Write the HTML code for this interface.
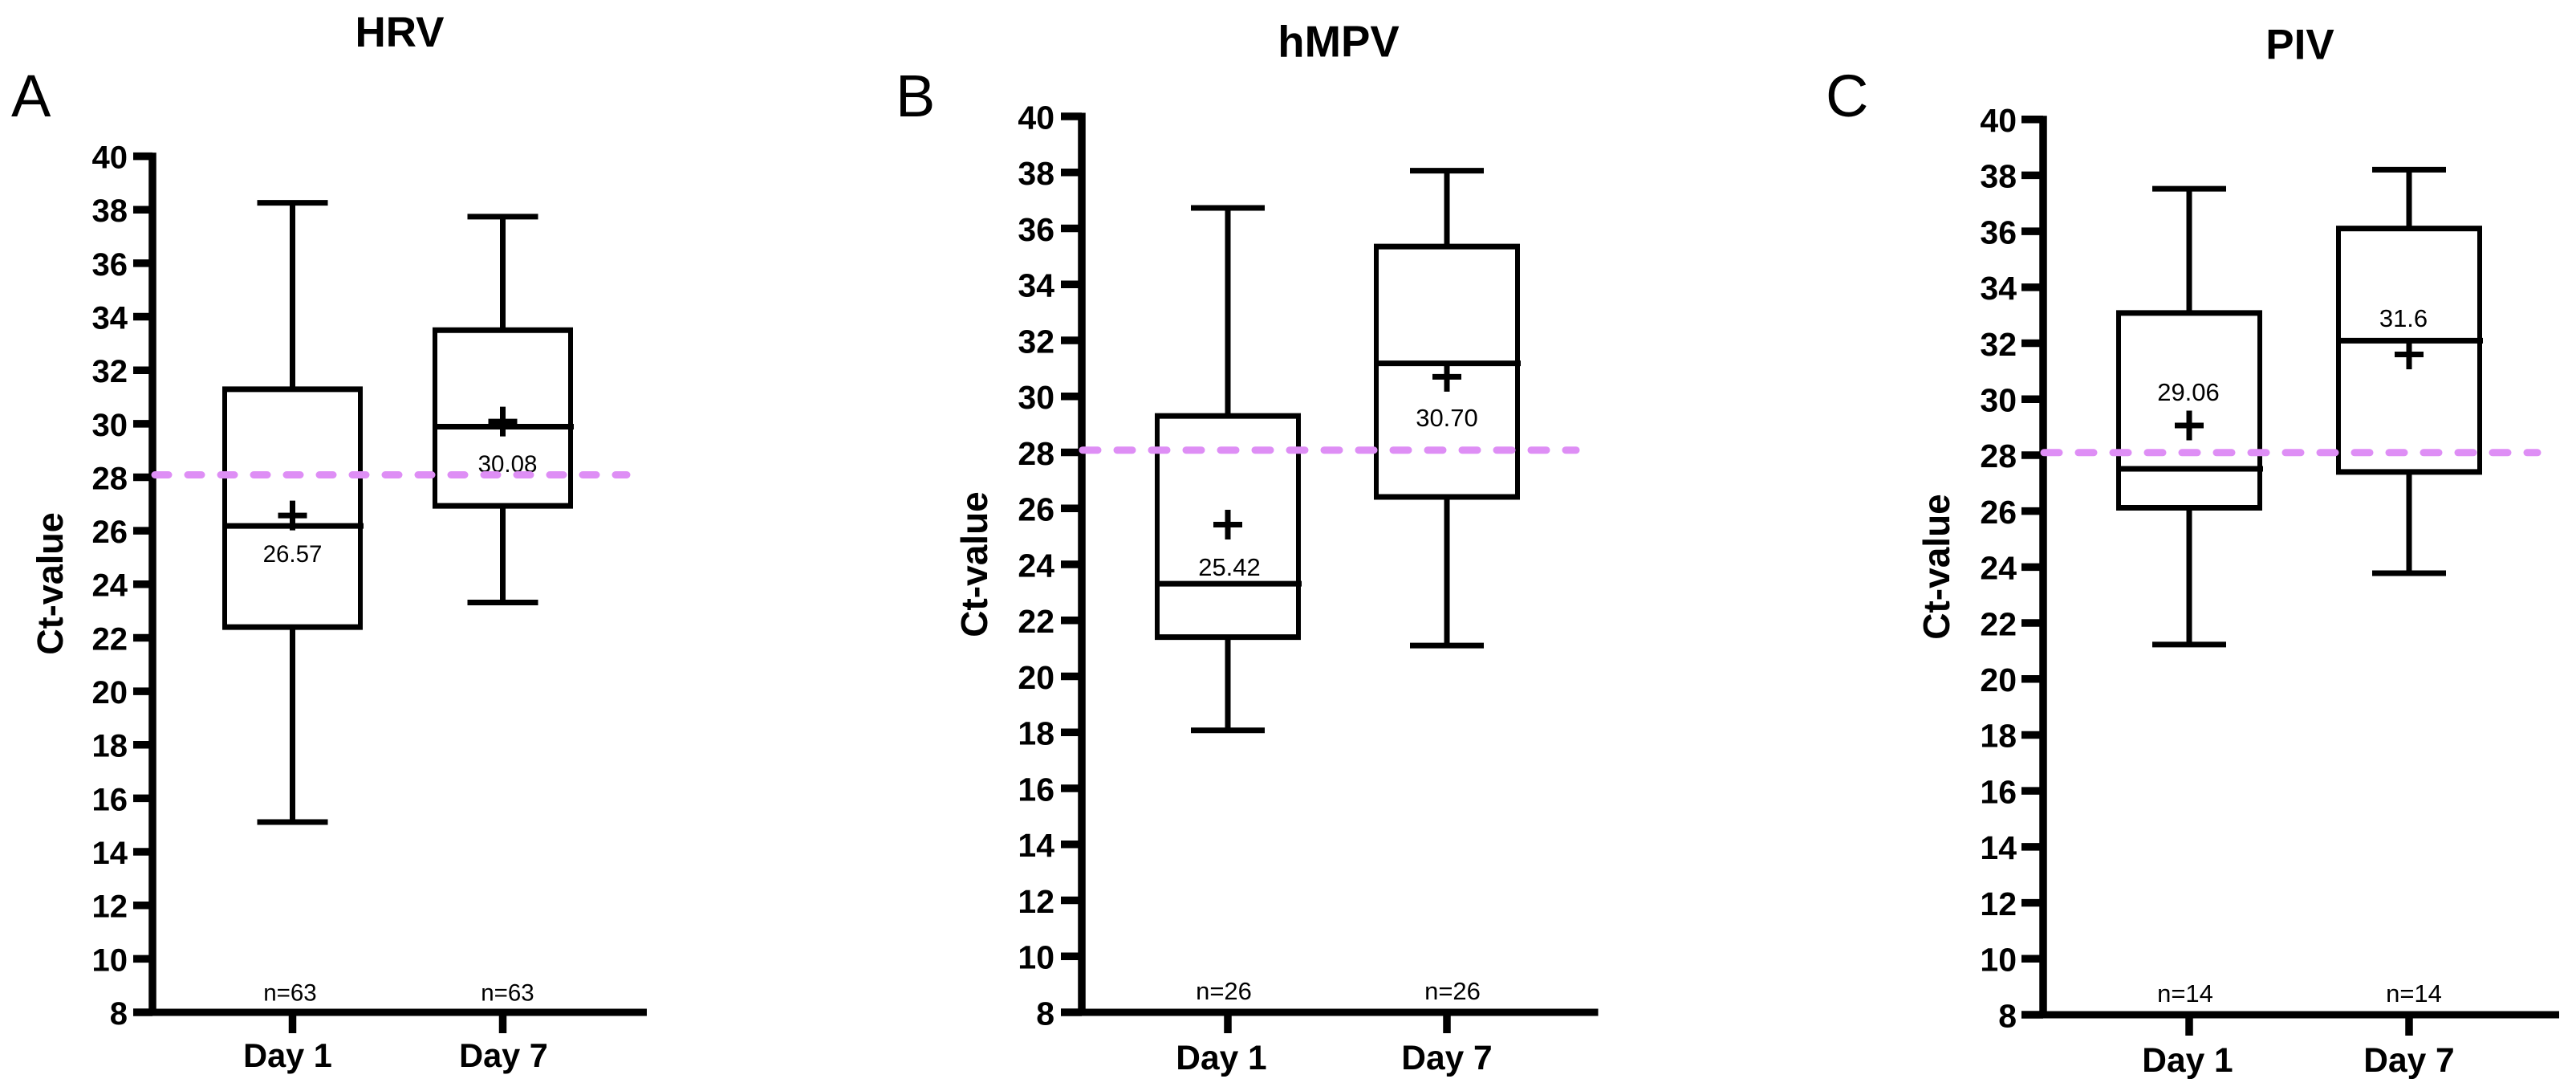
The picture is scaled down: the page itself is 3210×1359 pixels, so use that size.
<!DOCTYPE html>
<html lang="en">
<head>
<meta charset="utf-8">
<title>Ct-values at Day 1 and Day 7 for HRV, hMPV and PIV</title>
<style>
  html, body { margin: 0; padding: 0; background: #fff; }
  svg { display: block; font-family: "Liberation Sans", Arial, sans-serif; }
</style>
</head>
<body>
<svg id="figure" xmlns="http://www.w3.org/2000/svg" width="3210" height="1359" viewBox="0 0 3210 1359"></svg>
<script>
// ---- Data ----
const categories = ['Day 1', 'Day 7'];
const yTickValues = [8, 10, 12, 14, 16, 18, 20, 22, 24, 26, 28, 30, 32, 34, 36, 38, 40];

const hrvWhiskerHigh = [38.26, 37.74];
const hrvQ3 = [31.29, 33.50];
const hrvMedian = [26.18, 29.89];
const hrvQ1 = [22.40, 26.93];
const hrvWhiskerLow = [15.11, 23.32];
const hrvMean = [26.57, 30.08];
const hrvMeanLabels = ['26.57', '30.08'];
const hrvCounts = ['n=63', 'n=63'];
const hrvThreshold = 28.09;

const hmpvWhiskerHigh = [36.73, 38.06];
const hmpvQ3 = [29.30, 35.35];
const hmpvMedian = [23.31, 31.18];
const hmpvQ1 = [21.40, 26.41];
const hmpvWhiskerLow = [18.07, 21.10];
const hmpvMean = [25.42, 30.70];
const hmpvMeanLabels = ['25.42', '30.70'];
const hmpvCounts = ['n=26', 'n=26'];
const hmpvThreshold = 28.08;

const pivWhiskerHigh = [37.52, 38.20];
const pivQ3 = [33.08, 36.10];
const pivMedian = [27.51, 32.09];
const pivQ1 = [26.12, 27.40];
const pivWhiskerLow = [21.23, 23.78];
const pivMean = [29.06, 31.60];
const pivMeanLabels = ['29.06', '31.6'];
const pivCounts = ['n=14', 'n=14'];
const pivThreshold = 28.09;

// ---- Drawing ----
const svgNS = 'http://www.w3.org/2000/svg';
const figure = document.getElementById('figure');

function add(parent, tag, name, attrs, text) {
  const el = document.createElementNS(svgNS, tag);
  
  
  for (const k in attrs) el.setAttribute(k, attrs[k]);
  if (text !== undefined) el.textContent = text;
  parent.appendChild(el);
  return el;
}

function line(parent, name, x1, y1, x2, y2, w, color) {
  return add(parent, 'line', name, { x1: x1, y1: y1, x2: x2, y2: y2, stroke: color || '#000', 'stroke-width': w });
}

function label(parent, name, x, cy, size, str, opts) {
  const o = opts || {};
  return add(parent, 'text', name, {
    x: x, y: cy + size * 0.36, 'font-size': size,
    'font-weight': o.bold ? 'bold' : 'normal',
    'text-anchor': o.anchor || 'middle', fill: '#000'
  }, str);
}

function drawPanel(id, data, layout) {
  const g = add(figure, 'g', id + '-panel', {});
  const y = v => layout.yBottom - (v - 8) * (layout.yBottom - layout.yTop) / 32;
  const x = i => layout.xCenter0 + i * layout.xStep;

  // titles
  add(g, 'text', id + '-title', { x: layout.titleX, y: layout.titleBase, 'font-size': layout.titleSize, 'font-weight': 'bold', 'text-anchor': 'middle' }, data.title);
  add(g, 'text', id + '-panel-letter', { x: layout.letterX, y: 145, 'font-size': 74 }, data.letter);

  // y axis
  line(g, id + '-y-axis', layout.axisX, layout.yTop - 4.5, layout.axisX, layout.yBottom, 9.5);
  yTickValues.forEach(v => {
    line(g, id + '-y-tick', layout.tickLeft, y(v), layout.axisX, y(v), 9.5);
    label(g, id + '-y-tick-label', layout.tickLabelRight, y(v) + 0.5, layout.tickFont, String(v), { bold: true, anchor: 'end' });
  });
  add(g, 'text', id + '-y-axis-title', {
    x: 0, y: 0, 'font-size': layout.yTitleSize, 'font-weight': 'bold', 'text-anchor': 'middle',
    transform: 'translate(' + layout.yTitleX + ' ' + layout.yTitleY + ') rotate(-90)'
  }, 'Ct-value');

  // x axis
  line(g, id + '-x-axis', layout.tickLeft, layout.yBottom, layout.xEnd, layout.yBottom, 9);
  categories.forEach((c, i) => {
    line(g, id + '-x-tick', x(i), layout.yBottom, x(i), layout.yBottom + 26, 9.5);
    add(g, 'text', id + '-x-label', { x: x(i) + layout.dayDx[i], y: layout.dayBase, 'font-size': layout.dayFont, 'font-weight': 'bold', 'text-anchor': 'middle' }, c);
    label(g, id + '-count-label', x(i) + layout.countDx[i], layout.countY, layout.noteFont, data.counts[i]);
  });

  // boxes
  categories.forEach((c, i) => {
    const cx = x(i);
    const bw = layout.boxHalf;
    const cap = layout.capHalf;
    const top = y(data.q3[i]);
    const bottom = y(data.q1[i]);
    line(g, id + '-whisker-upper', cx, y(data.whiskerHigh[i]), cx, top, 7);
    line(g, id + '-whisker-lower', cx, bottom, cx, y(data.whiskerLow[i]), 7);
    line(g, id + '-cap-upper', cx - cap, y(data.whiskerHigh[i]), cx + cap, y(data.whiskerHigh[i]), 7);
    line(g, id + '-cap-lower', cx - cap, y(data.whiskerLow[i]), cx + cap, y(data.whiskerLow[i]), 7);
    line(g, id + '-box-left', cx - bw, top, cx - bw, bottom, 6);
    line(g, id + '-box-right', cx + bw, top, cx + bw, bottom, 6);
    line(g, id + '-box-top', cx - bw - 3, top, cx + bw + 3, top, 7);
    line(g, id + '-box-bottom', cx - bw - 3, bottom, cx + bw + 3, bottom, 7);
    line(g, id + '-median', cx - bw, y(data.median[i]), cx + bw + 4, y(data.median[i]), 7);
    const my = y(data.mean[i]);
    line(g, id + '-mean-marker-h', cx - 18, my, cx + 18, my, 7);
    line(g, id + '-mean-marker-v', cx, my - 18.5, cx, my + 18.5, 7);
    label(g, id + '-mean-label', cx + layout.meanDx[i], my + layout.meanDy[i], layout.noteFont, data.meanLabels[i]);
  });

  // threshold
  add(g, 'line', id + '-threshold-line', {
    x1: layout.dashStart, y1: y(data.threshold), x2: layout.dashEnd, y2: y(data.threshold),
    stroke: '#DE8EF5', 'stroke-width': 9, 'stroke-linecap': 'round', 'stroke-dasharray': layout.dash
  });
}

drawPanel('hrv', {
  title: 'HRV', letter: 'A', whiskerHigh: hrvWhiskerHigh, q3: hrvQ3, median: hrvMedian, q1: hrvQ1,
  whiskerLow: hrvWhiskerLow, mean: hrvMean, meanLabels: hrvMeanLabels, counts: hrvCounts, threshold: hrvThreshold
}, {
  axisX: 190, tickLeft: 166, tickLabelRight: 159, tickFont: 40, yTop: 194.6, yBottom: 1261, xEnd: 806,
  xCenter0: 364.5, xStep: 262, boxHalf: 84.5, capHalf: 44,
  titleX: 498, titleBase: 58, titleSize: 53, letterX: 14,
  yTitleX: 78, yTitleY: 727, yTitleSize: 45,
  dayDx: [-6, 1], dayBase: 1329, dayFont: 41.5, noteFont: 29.5,
  countDx: [-3, 6], countY: 1236, meanDx: [0, 6], meanDy: [47, 52],
  dashStart: 193, dashEnd: 781, dash: '17 24'
});

drawPanel('hmpv', {
  title: 'hMPV', letter: 'B', whiskerHigh: hmpvWhiskerHigh, q3: hmpvQ3, median: hmpvMedian, q1: hmpvQ1,
  whiskerLow: hmpvWhiskerLow, mean: hmpvMean, meanLabels: hmpvMeanLabels, counts: hmpvCounts, threshold: hmpvThreshold
}, {
  axisX: 1348, tickLeft: 1322, tickLabelRight: 1314, tickFont: 41, yTop: 145, yBottom: 1261, xEnd: 1991.5,
  xCenter0: 1530, xStep: 273, boxHalf: 88, capHalf: 46,
  titleX: 1668, titleBase: 70.5, titleSize: 54.5, letterX: 1116,
  yTitleX: 1230, yTitleY: 703, yTitleSize: 46,
  dayDx: [-8, 0], dayBase: 1332, dayFont: 42.5, noteFont: 31,
  countDx: [-5, 7], countY: 1234, meanDx: [2, 0], meanDy: [52.5, 50.7],
  dashStart: 1349, dashEnd: 1964, dash: '19 24'
});

drawPanel('piv', {
  title: 'PIV', letter: 'C', whiskerHigh: pivWhiskerHigh, q3: pivQ3, median: pivMedian, q1: pivQ1,
  whiskerLow: pivWhiskerLow, mean: pivMean, meanLabels: pivMeanLabels, counts: pivCounts, threshold: pivThreshold
}, {
  axisX: 2546, tickLeft: 2519, tickLabelRight: 2513, tickFont: 41, yTop: 148.7, yBottom: 1264, xEnd: 3189,
  xCenter0: 2728, xStep: 274, boxHalf: 88, capHalf: 46,
  titleX: 2866, titleBase: 73.7, titleSize: 53, letterX: 2275,
  yTitleX: 2429, yTitleY: 706, yTitleSize: 46,
  dayDx: [-2, 0], dayBase: 1335, dayFont: 42.5, noteFont: 31,
  countDx: [-5, 6], countY: 1237, meanDx: [-1, -7], meanDy: [-42, -45.5],
  dashStart: 2547, dashEnd: 3162, dash: '19 24'
});
</script>
</body>
</html>
